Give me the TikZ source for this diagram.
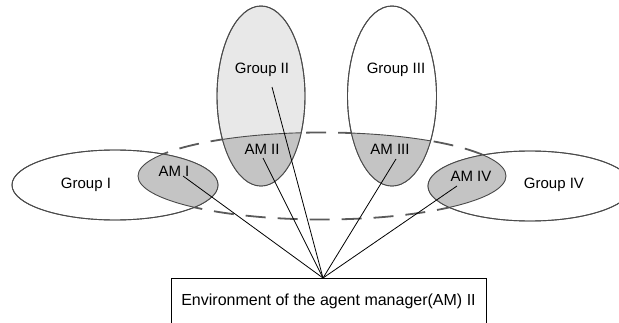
\documentclass[tikz,border=0pt]{standalone}
\usepackage{fontspec}
\setmainfont{Liberation Sans}
\usetikzlibrary{positioning}
\definecolor{rimgray}{HTML}{4A4A4A}
\definecolor{amgray}{HTML}{C4C4C4}
\definecolor{lightgroup}{HTML}{E8E8E8}
\definecolor{dashgray}{HTML}{5A5A5A}
\tikzstyle{novertex} = [draw=none, fill=none, text centered, inner sep=0pt, font=\fontsize{15}{18}\selectfont]
\tikzstyle{envbox} = [rectangle, draw, line width=0.8pt, text centered, minimum width=315pt, minimum height=46pt, font=\fontsize{16}{19}\selectfont]
\tikzstyle{rim} = [draw=rimgray, line width=0.9pt]
\tikzstyle{manager} = [draw=dashgray, line width=1.8pt, dash pattern=on 20pt off 12pt]
\tikzstyle{link} = [draw, line width=0.8pt]
\newcommand{\gone}{(115,137) ellipse [x radius=103pt, y radius=35pt]}
\newcommand{\gtwo}{(261,226) ellipse [x radius=44pt, y radius=90pt]}
\newcommand{\gthree}{(392,226) ellipse [x radius=44.5pt, y radius=90pt]}
\newcommand{\gfour}{(530,136) ellipse [x radius=102pt, y radius=35pt]}
\newcommand{\ring}{(322,146) ellipse [x radius=184pt, y radius=43.5pt]}
\begin{document}
\begin{tikzpicture}[x=1pt, y=1pt]
	% page
	\clip (0,0) rectangle (619,322);

	% manager ring and groups
	\path [manager] \ring;
	\path [rim, fill=white] \gone;
	\path [rim, fill=white] \gfour;
	\path [rim, fill=lightgroup] \gtwo;
	\path [rim, fill=white] \gthree;

	% agent managers
	\foreach \g in {\gone,\gtwo,\gthree,\gfour} {
		\begin{scope}
			\clip \g;
			\path [rim, fill=amgray] \ring;
		\end{scope}
		\path [rim] \g;
	}

	% place nodes
	\node [novertex] (G1) at (86,137)  {Group I};
	\node [novertex] (G2) at (262,252) {Group II};
	\node [novertex] (G3) at (396,252) {Group III};
	\node [novertex] (G4) at (554,137) {Group IV};
	\node [novertex] (M1) at (174,151) {AM I};
	\node [novertex] (M2) at (262,173) {AM II};
	\node [novertex] (M3) at (390,173) {AM III};
	\node [novertex] (M4) at (471,146) {AM IV};
	\node [envbox, anchor=north] (E) at (328.5,44) {Environment of the agent manager(AM) II};

	% line ends
	\coordinate (hub) at ([xshift=-5.5pt]E.north);
	\coordinate (A1) at (183,146);
	\coordinate (A2) at (263,164);
	\coordinate (B2) at (272,235);
	\coordinate (A3) at (396,163);
	\coordinate (A4) at (457,136);

	% draw edges
	\path [link] (A1) -- (hub);
	\path [link] (A2) -- (hub);
	\path [link] (B2) -- (hub);
	\path [link] (A3) -- (hub);
	\path [link] (A4) -- (hub);
\end{tikzpicture}
\end{document}
